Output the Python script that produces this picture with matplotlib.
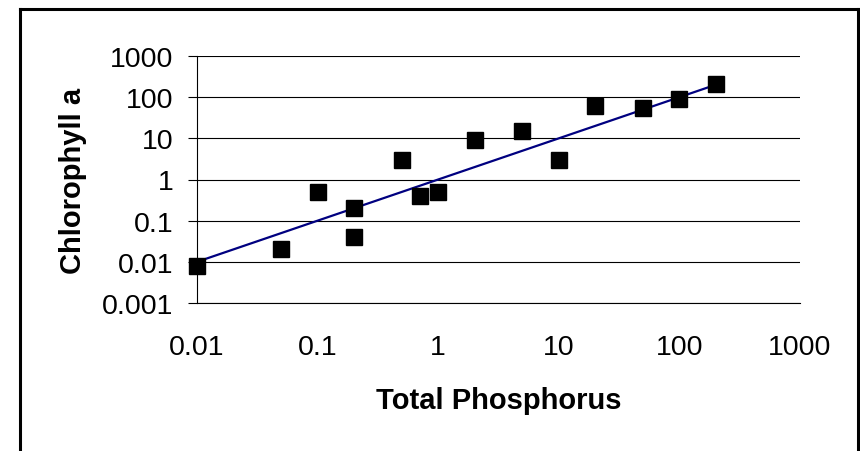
import numpy as np
import matplotlib
matplotlib.use("Agg")
import matplotlib.pyplot as plt
from matplotlib.lines import Line2D
from matplotlib.ticker import FixedLocator, FixedFormatter, NullLocator

# -------------------------------------------------------------------------------------
# Data
total_phosphorus = [0.01, 0.05, 0.1, 0.2, 0.2, 0.5, 0.7, 1, 2, 5, 10, 20, 50, 100, 200]
chlorophyll_a = [0.008, 0.02, 0.5, 0.2, 0.04, 3, 0.4, 0.5, 9, 15, 3, 60, 55, 90, 210]

# trend line (1:1)
line_x = [0.01, 0.05, 0.1, 0.2, 0.5, 0.7, 1, 2, 5, 10, 20, 50, 100, 200]
line_y = [0.01, 0.05, 0.1, 0.2, 0.5, 0.7, 1, 2, 5, 10, 20, 50, 100, 200]

x_ticks = [0.01, 0.1, 1, 10, 100, 1000]
x_tick_labels = ['0.01', '0.1', '1', '10', '100', '1000']
y_ticks = [0.001, 0.01, 0.1, 1, 10, 100, 1000]
y_tick_labels = ['0.001', '0.01', '0.1', '1', '10', '100', '1000']
# -------------------------------------------------------------------------------------

plt.rcParams['font.family'] = ['Liberation Sans', 'DejaVu Sans']

W, H = 860, 452
fig = plt.figure(figsize=(W / 100, H / 100), dpi=100)
ax = fig.add_axes([197 / W, 1 - 304 / H, (800 - 197) / W, (304 - 57) / H])

ax.set_xscale('log')
ax.set_yscale('log')
ax.set_xlim(0.01, 1000)
ax.set_ylim(0.001, 1000)

# line then markers on top
ax.plot(line_x, line_y, color='#000080', lw=1.6, zorder=3)
ax.plot(total_phosphorus, chlorophyll_a, linestyle='none', marker='s', ms=11,
        mfc='black', mec='black', clip_on=False, zorder=4)

# ticks
ax.xaxis.set_major_locator(FixedLocator(x_ticks))
ax.xaxis.set_major_formatter(FixedFormatter(x_tick_labels))
ax.yaxis.set_major_locator(FixedLocator(y_ticks))
ax.yaxis.set_major_formatter(FixedFormatter(y_tick_labels))
ax.xaxis.set_minor_locator(NullLocator())
ax.yaxis.set_minor_locator(NullLocator())
ax.tick_params(axis='x', length=0, pad=22, labelsize=20.5)
ax.tick_params(axis='y', length=6.5, width=0.8, pad=10.5, labelsize=20.5, direction='out')

ax.yaxis.grid(True, color='black', lw=0.8)
ax.set_axisbelow(True)

for side in ['top', 'right']:
    ax.spines[side].set_visible(False)
for side in ['left', 'bottom']:
    ax.spines[side].set_linewidth(0.8)
    ax.spines[side].set_color('black')

ax.set_xlabel('Total Phosphorus', fontsize=21, fontweight='bold', labelpad=19)
ax.set_ylabel('Chlorophyll a', fontsize=21, fontweight='bold', labelpad=11)

# outer frame (no bottom edge)
lw_frame = 2.2
fig.add_artist(Line2D([20 / W, 20 / W], [0, 1 - 10 / H], color='black', lw=lw_frame))
fig.add_artist(Line2D([20 / W, 858 / W], [1 - 10 / H, 1 - 10 / H], color='black', lw=lw_frame))
fig.add_artist(Line2D([858 / W, 858 / W], [0, 1 - 10 / H], color='black', lw=lw_frame))

fig.savefig('out.png', dpi=100)
